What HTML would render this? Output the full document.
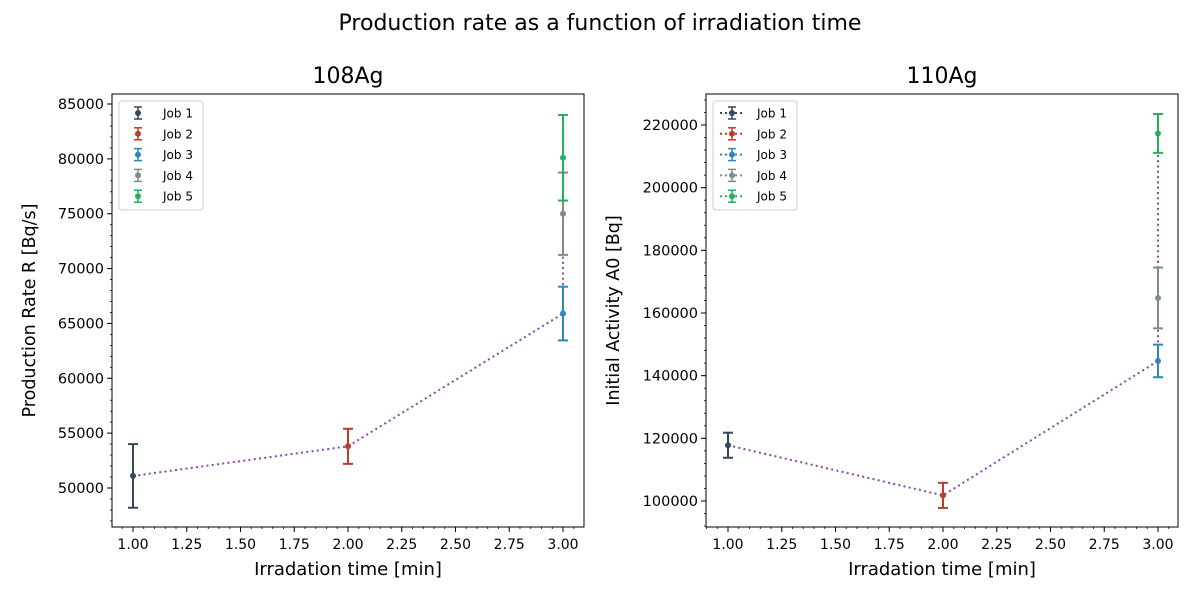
<!DOCTYPE html>
<html><head><meta charset="utf-8"><style>
body{margin:0;background:#fff;font-family:"Liberation Sans","DejaVu Sans",sans-serif}
svg text{font-family:"DejaVu Sans","Liberation Sans",sans-serif}
</style></head><body>
<svg id="c" width="1200" height="600" viewBox="0 0 1200 600">
<text x="600" y="30" font-size="22" text-anchor="middle">Production rate as a function of irradiation time</text>
</svg>
<script>
const jobs=["Job 1","Job 2","Job 3","Job 4","Job 5"];
const colors=["#34495e","#c0392b","#2e86c1","#7f8c8d","#27ae60"];
const xTime=[1,2,3,3,3];
const rateVals=[51100,53800,65900,75000,80100];
const rateErr=[2900,1600,2450,3750,3900];
const actVals=[117800,101800,144700,164800,217300];
const actErr=[4000,4000,5200,9700,6200];
const xTicks=[1,1.25,1.5,1.75,2,2.25,2.5,2.75,3];
const rateTicks=[50000,55000,60000,65000,70000,75000,80000,85000];
const actTicks=[100000,120000,140000,160000,180000,200000,220000];
const NS="http://www.w3.org/2000/svg";
const svg=document.getElementById('c');
function mk(tag,attrs,parent){const e=document.createElementNS(NS,tag);for(const k in attrs)e.setAttribute(k,attrs[k]);(parent||svg).appendChild(e);return e;}
function panel(cfg){
 const g=mk('g',{});
 
 
 const L=cfg.left,R=cfg.left+472,T=94,B=527;
 const xs=v=>cfg.x0+(v-1)*(cfg.x3-cfg.x0)/2;
 const ys=v=>cfg.ya+(v-cfg.va)*(cfg.yb-cfg.ya)/(cfg.vb-cfg.va);
 const vmin=cfg.va+(B-cfg.ya)*(cfg.vb-cfg.va)/(cfg.yb-cfg.ya);
 const vmax=cfg.va+(T-cfg.ya)*(cfg.vb-cfg.va)/(cfg.yb-cfg.ya);
 for(let v=0.9;v<=3.1;v+=0.05){const x=xs(v);if(x<L||x>R)continue;mk('line',{x1:x,x2:x,y1:B,y2:B+2,stroke:'#000','stroke-width':0.8},g);}
 xTicks.forEach(v=>{const x=xs(v);mk('line',{x1:x,x2:x,y1:B,y2:B+5,stroke:'#000','stroke-width':1},g);
  const t=mk('text',{x:x,y:B+22,'font-size':14,'text-anchor':'middle'},g);t.textContent=v.toFixed(2);
  });
 const mstep=cfg.minor;
 for(let v=Math.ceil(vmin/mstep)*mstep;v<=vmax;v+=mstep){const y=ys(v);mk('line',{x1:L-2,x2:L,y1:y,y2:y,stroke:'#000','stroke-width':0.8},g);}
 cfg.ticks.forEach(v=>{const y=ys(v);mk('line',{x1:L-5,x2:L,y1:y,y2:y,stroke:'#000'},g);
  const t=mk('text',{x:L-8,y:y+5,'font-size':14.5,'text-anchor':'end'},g);t.textContent=v;
  });
 const pts=cfg.vals.map((v,i)=>xs(xTime[i])+','+ys(v)).join(' ');
 const pl=mk('polyline',{points:pts,fill:'none',stroke:'#8e44ad','stroke-width':2,'stroke-dasharray':'2,3.3'},g);
 
 cfg.vals.forEach((v,i)=>{const x=xs(xTime[i]);const e=mk('g',{},g);
  
  const y1=ys(v-cfg.err[i]),y2=ys(v+cfg.err[i]);
  mk('line',{x1:x,x2:x,y1:y1,y2:y2,stroke:colors[i],'stroke-width':2},e);
  mk('line',{x1:x-5,x2:x+5,y1:y1,y2:y1,stroke:colors[i],'stroke-width':2},e);
  mk('line',{x1:x-5,x2:x+5,y1:y2,y2:y2,stroke:colors[i],'stroke-width':2},e);
  mk('circle',{cx:x,cy:ys(v),r:3,fill:colors[i]},e);});
 mk('rect',{x:L,y:T,width:472,height:433,fill:'none',stroke:'#000','stroke-width':1},g);
 const lg=mk('g',{},g);
 mk('rect',{x:L+7,y:T+7,width:84,height:109,rx:3,fill:'#fff',stroke:'#ccc'},lg);
 jobs.forEach((j,i)=>{const y=T+19+i*20.8;const cx=L+26;const e=mk('g',{},lg);
  
  if(cfg.dotted)mk('line',{x1:L+14,x2:L+38,y1:y,y2:y,stroke:colors[i],'stroke-width':2,'stroke-dasharray':'2,3'},e);
  mk('line',{x1:cx,x2:cx,y1:y-6,y2:y+6,stroke:colors[i],'stroke-width':1.5},e);
  mk('line',{x1:cx-4,x2:cx+4,y1:y-6,y2:y-6,stroke:colors[i],'stroke-width':1.5},e);
  mk('line',{x1:cx-4,x2:cx+4,y1:y+6,y2:y+6,stroke:colors[i],'stroke-width':1.5},e);
  mk('circle',{cx:cx,cy:y,r:3,fill:colors[i]},e);
  const t=mk('text',{x:L+51,y:y+4.5,'font-size':12},e);t.textContent=j;});
 const tt=mk('text',{x:(L+R)/2,y:83,'font-size':22,'text-anchor':'middle'},g);tt.textContent=cfg.title;
 
 const xl=mk('text',{x:(L+R)/2,y:575,'font-size':18,'text-anchor':'middle'},g);xl.textContent='Irradation time [min]';
 
 const yl=mk('text',{x:0,y:0,'font-size':17.5,'text-anchor':'middle',transform:`translate(${cfg.ylx},${(T+B)/2}) rotate(-90)`},g);yl.textContent=cfg.ylabel;
 
}
panel({name:'panel-108ag',left:112,x0:133,x3:563,ya:488,va:50000,yb:104,vb:85000,ticks:rateTicks,minor:1000,vals:rateVals,err:rateErr,title:'108Ag',ylabel:'Production Rate R [Bq/s]',ylx:35,dotted:false});
panel({name:'panel-110ag',left:706,x0:728,x3:1158,ya:501,va:100000,yb:125,vb:220000,ticks:actTicks,minor:4000,vals:actVals,err:actErr,title:'110Ag',ylabel:'Initial Activity A0 [Bq]',ylx:619,dotted:true});
</script>
</body></html>
